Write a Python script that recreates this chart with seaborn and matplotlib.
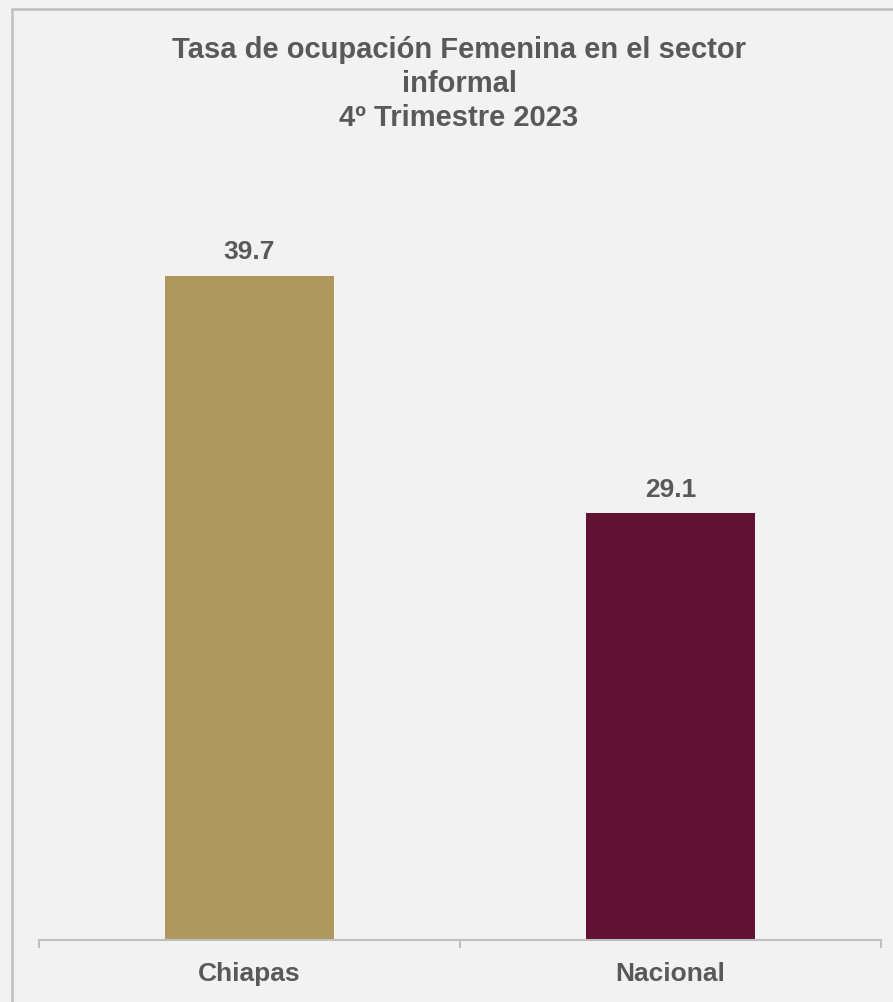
import matplotlib
matplotlib.use("Agg")
import matplotlib.pyplot as plt
from matplotlib.patches import Rectangle
from matplotlib.ticker import FixedLocator
import pandas as pd
import seaborn as sns

# datos
categorias = ["Chiapas", "Nacional"]
valores = [39.7, 29.1]
colores = ["#AE985B", "#611232"]
titulo = "Tasa de ocupación Femenina en el sector\ninformal\n4º Trimestre 2023"

FONDO = "#F2F2F2"
GRIS_TXT = "#595959"
GRIS_LINEA = "#BFBFBF"

sns.set_style("white")
plt.rcParams["font.family"] = ["Liberation Sans", "DejaVu Sans"]

df = pd.DataFrame({"categoria": categorias, "valor": valores})

fig = plt.figure(figsize=(8.93, 10.02), dpi=100, facecolor=FONDO)
ax = fig.add_axes([39 / 893, 62 / 1002, 842 / 893, 783 / 1002])
ax.set_facecolor(FONDO)

sns.barplot(data=df, x="categoria", y="valor", hue="categoria",
            palette=colores, width=0.4, legend=False, ax=ax,
            saturation=1, linewidth=0)

ax.set_ylim(10, 45)
ax.set_xlim(-0.5, 1.5)

for cont in ax.containers:
    ax.bar_label(cont, fmt="%.1f", padding=8, fontsize=19,
                 fontweight="bold", color=GRIS_TXT)

for lado in ["top", "right", "left"]:
    ax.spines[lado].set_visible(False)
ax.spines["bottom"].set_color(GRIS_LINEA)
ax.spines["bottom"].set_linewidth(1.5)

ax.set_yticks([])
ax.set_xlabel("")
ax.set_ylabel("")
ax.tick_params(axis="x", which="major", length=0, pad=16,
               labelsize=19, labelcolor=GRIS_TXT)
for lbl in ax.get_xticklabels():
    lbl.set_fontweight("bold")
ax.xaxis.set_minor_locator(FixedLocator([-0.5, 0.5, 1.5]))
ax.tick_params(axis="x", which="minor", bottom=True, length=6, width=1.5,
               color=GRIS_LINEA, direction="out")

fig.text(459 / 893, 1 - 84 / 1002, titulo, ha="center", va="center",
         fontsize=21, fontweight="bold", color=GRIS_TXT, linespacing=1.27)

# marco del grafico
fig.patches.append(Rectangle((11.5 / 893, -0.05), 1.1, 0.05 + 1 - 9.5 / 1002,
                             transform=fig.transFigure, fill=False,
                             edgecolor=GRIS_LINEA, linewidth=1.8))

fig.savefig("out.png", dpi=100, facecolor=FONDO)
